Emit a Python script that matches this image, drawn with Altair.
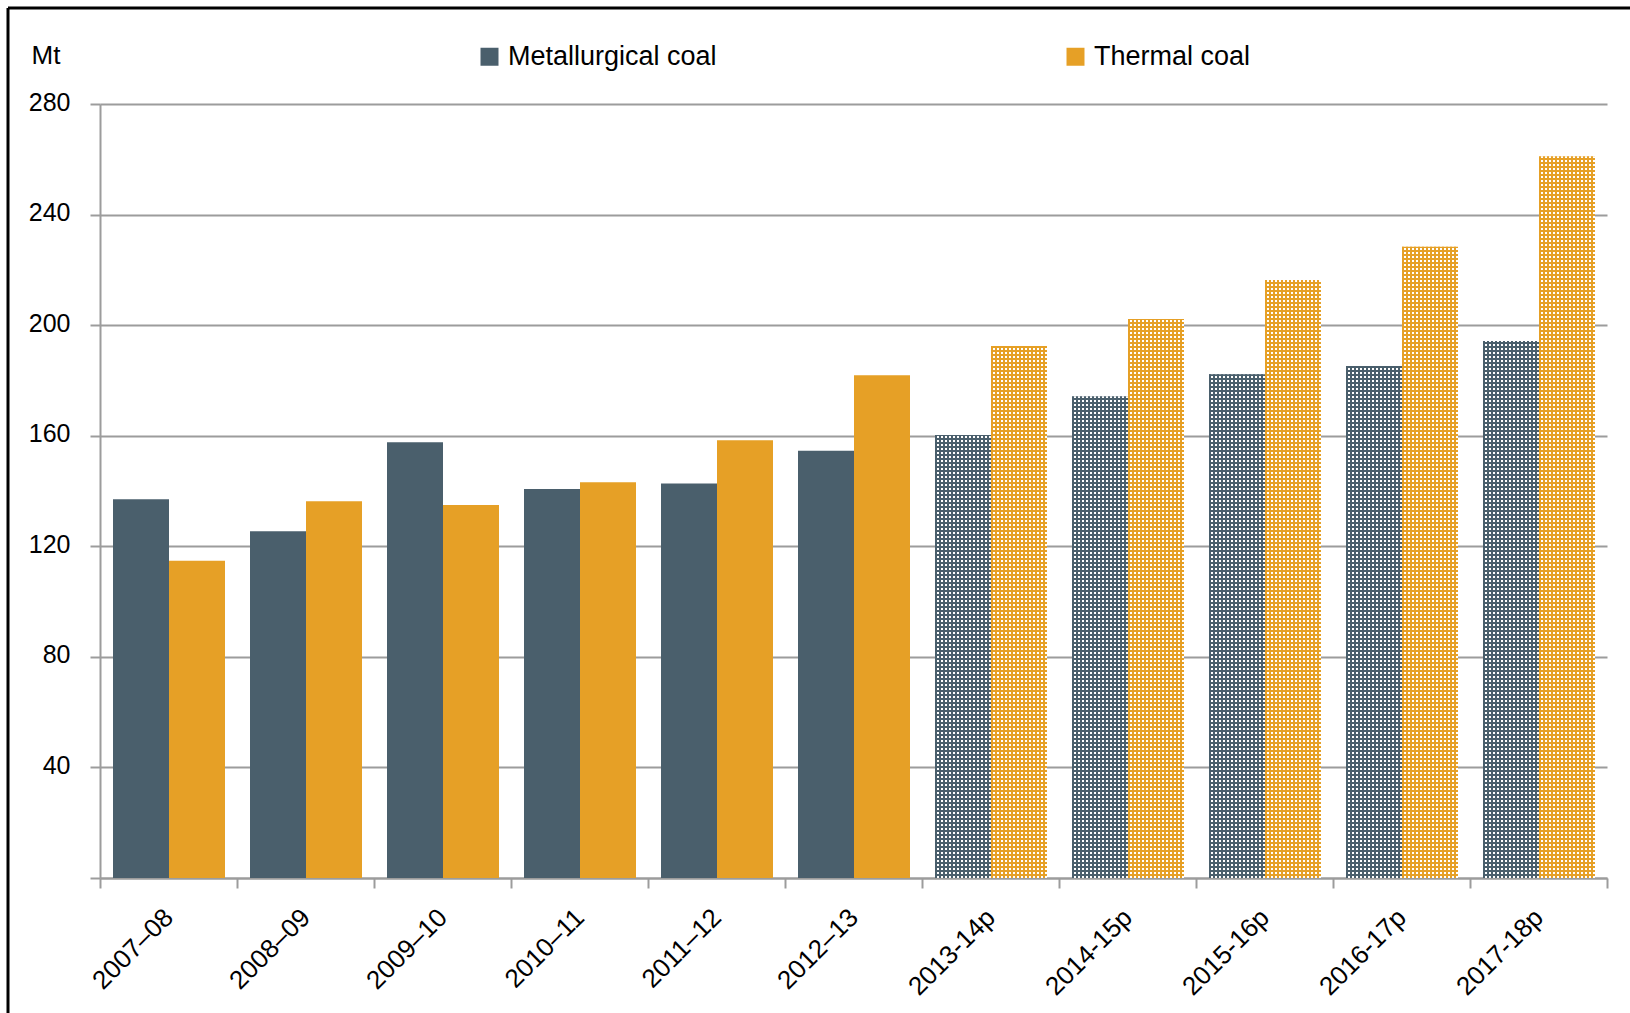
import altair as alt
import pandas as pd

# Financial years; a trailing "p" marks a projection
years = ["2007–08", "2008–09", "2009–10", "2010–11", "2011–12", "2012–13",
         "2013-14p", "2014-15p", "2015-16p", "2016-17p", "2017-18p"]
metallurgical = [137.0, 125.4, 157.6, 140.7, 142.7, 154.6,
                 160.3, 174.3, 182.2, 185.2, 194.3]
thermal = [114.8, 136.3, 134.9, 143.2, 158.4, 181.9,
           192.5, 202.2, 216.3, 228.4, 261.1]

series_names = ["Metallurgical coal", "Thermal coal"]
series_colors = ["#4a5f6c", "#e6a026"]
y_ticks = [0, 40, 80, 120, 160, 200, 240, 280]

FONT = "Liberation Sans, Arial, sans-serif"
GREY = "#9c9c9c"

rows = []
for i, yr in enumerate(years):
    for name, vals in zip(series_names, [metallurgical, thermal]):
        rows.append({"year": yr, "series": name, "value": vals[i],
                     "projected": yr.endswith("p")})
df = pd.DataFrame(rows)

# 11 bands of 137 px; each band holds two 56 px bars
W, H = 1507, 774
BAR_W = 56

x_enc = alt.X("year:N", sort=years,
              scale=alt.Scale(paddingInner=0, paddingOuter=0, round=True),
              axis=alt.Axis(title=None, labelAngle=315, labelAlign="right",
                            labelBaseline="middle", labelPadding=25,
                            labelFontSize=26, labelOverlap=False, labelBound=False,
                            tickBand="extent", tickSize=10, tickWidth=2,
                            tickColor=GREY, domainColor=GREY, domainWidth=2,
                            grid=False))
xo_enc = alt.XOffset("series:N", sort=series_names,
                     scale=alt.Scale(paddingInner=0, paddingOuter=0.223, round=True))
y_enc = alt.Y("value:Q",
              scale=alt.Scale(domain=[0, 280], nice=False, zero=True),
              axis=alt.Axis(values=y_ticks,
                            labelExpr="datum.value == 0 ? '' : datum.label",
                            title="Mt", titleAngle=0, titleAlign="left",
                            titleBaseline="alphabetic", titleX=-69, titleY=-41,
                            titleFontSize=26, titleFontWeight="normal",
                            labelFontSize=25, labelPadding=20, labelOffset=-2,
                            grid=True, gridColor=GREY, gridWidth=2,
                            tickSize=10, tickWidth=2, tickColor=GREY,
                            domainColor=GREY, domainWidth=2))

base = alt.Chart(df).mark_bar().encode(
    x=x_enc,
    xOffset=xo_enc,
    y=y_enc,
    color=alt.Color("series:N",
                    scale=alt.Scale(domain=series_names, range=series_colors),
                    legend=alt.Legend(title=None, orient="none", legendX=376,
                                      legendY=-61, padding=0,
                                      direction="horizontal",
                                      columns=2, columnPadding=345,
                                      symbolType="square", symbolSize=324,
                                      symbolStrokeWidth=0, symbolOpacity=1,
                                      labelFontSize=27, labelOffset=5,
                                      labelLimit=0,
                                      labelColor="black", labelFont=FONT)),
)

# Projected years get a dotted texture: white horizontal dashes first,
# drawn upward from the baseline so the rows sit on whole pixels ...
white_rows = (
    alt.Chart(df)
    .transform_filter("datum.projected")
    .transform_calculate(zero="0")
    .mark_rule(color="white", strokeWidth=BAR_W, strokeDash=[2, 2], strokeCap="butt")
    .encode(
        x=alt.X("year:N", sort=years),
        xOffset=alt.XOffset("series:N", sort=series_names),
        y=alt.Y("zero:Q"),
        y2=alt.Y2("value"),
    )
)


def column_stripes(color, n=14):
    stops = []
    for i in range(n):
        stops += [
            alt.GradientStop(color=color, offset=i / n),
            alt.GradientStop(color=color, offset=(i + 0.5) / n),
            alt.GradientStop(color="rgba(255,255,255,0)", offset=(i + 0.5) / n),
            alt.GradientStop(color="rgba(255,255,255,0)", offset=(i + 1) / n),
        ]
    return alt.LinearGradient(gradient="linear", stops=stops,
                              x1=0, x2=1, y1=0, y2=0)


# ... then coloured vertical stripes on top, leaving white dots
stripe_layers = []
for name, col in zip(series_names, series_colors):
    stripe_layers.append(
        alt.Chart(df)
        .transform_filter(f"datum.projected && datum.series == '{name}'")
        .mark_bar(color=column_stripes(col))
        .encode(
            x=alt.X("year:N", sort=years),
            xOffset=alt.XOffset("series:N", sort=series_names),
            y="value:Q",
        )
    )

# Black frame along the top and left edges
frame_src = alt.Data(values=[{"k": 0}])
frame_top = alt.Chart(frame_src).mark_rule(color="black", strokeWidth=3).encode(
    x=alt.value(-92), x2=alt.value(1530), y=alt.value(-96))
frame_left = alt.Chart(frame_src).mark_rule(color="black", strokeWidth=3).encode(
    x=alt.value(-92), y=alt.value(-96), y2=alt.value(909))

chart = alt.layer(base, white_rows, *stripe_layers, frame_top, frame_left).properties(
    width=W, height=H,
    padding={"left": 100, "top": 104, "right": 23, "bottom": 135},
    autosize=alt.AutoSizeParams(type="none"),
    background="white",
).configure_axis(
    labelFont=FONT, titleFont=FONT, labelColor="black", titleColor="black",
).configure_view(strokeWidth=0)

chart.save("out.html", embed_options={"renderer": "svg", "actions": False})
